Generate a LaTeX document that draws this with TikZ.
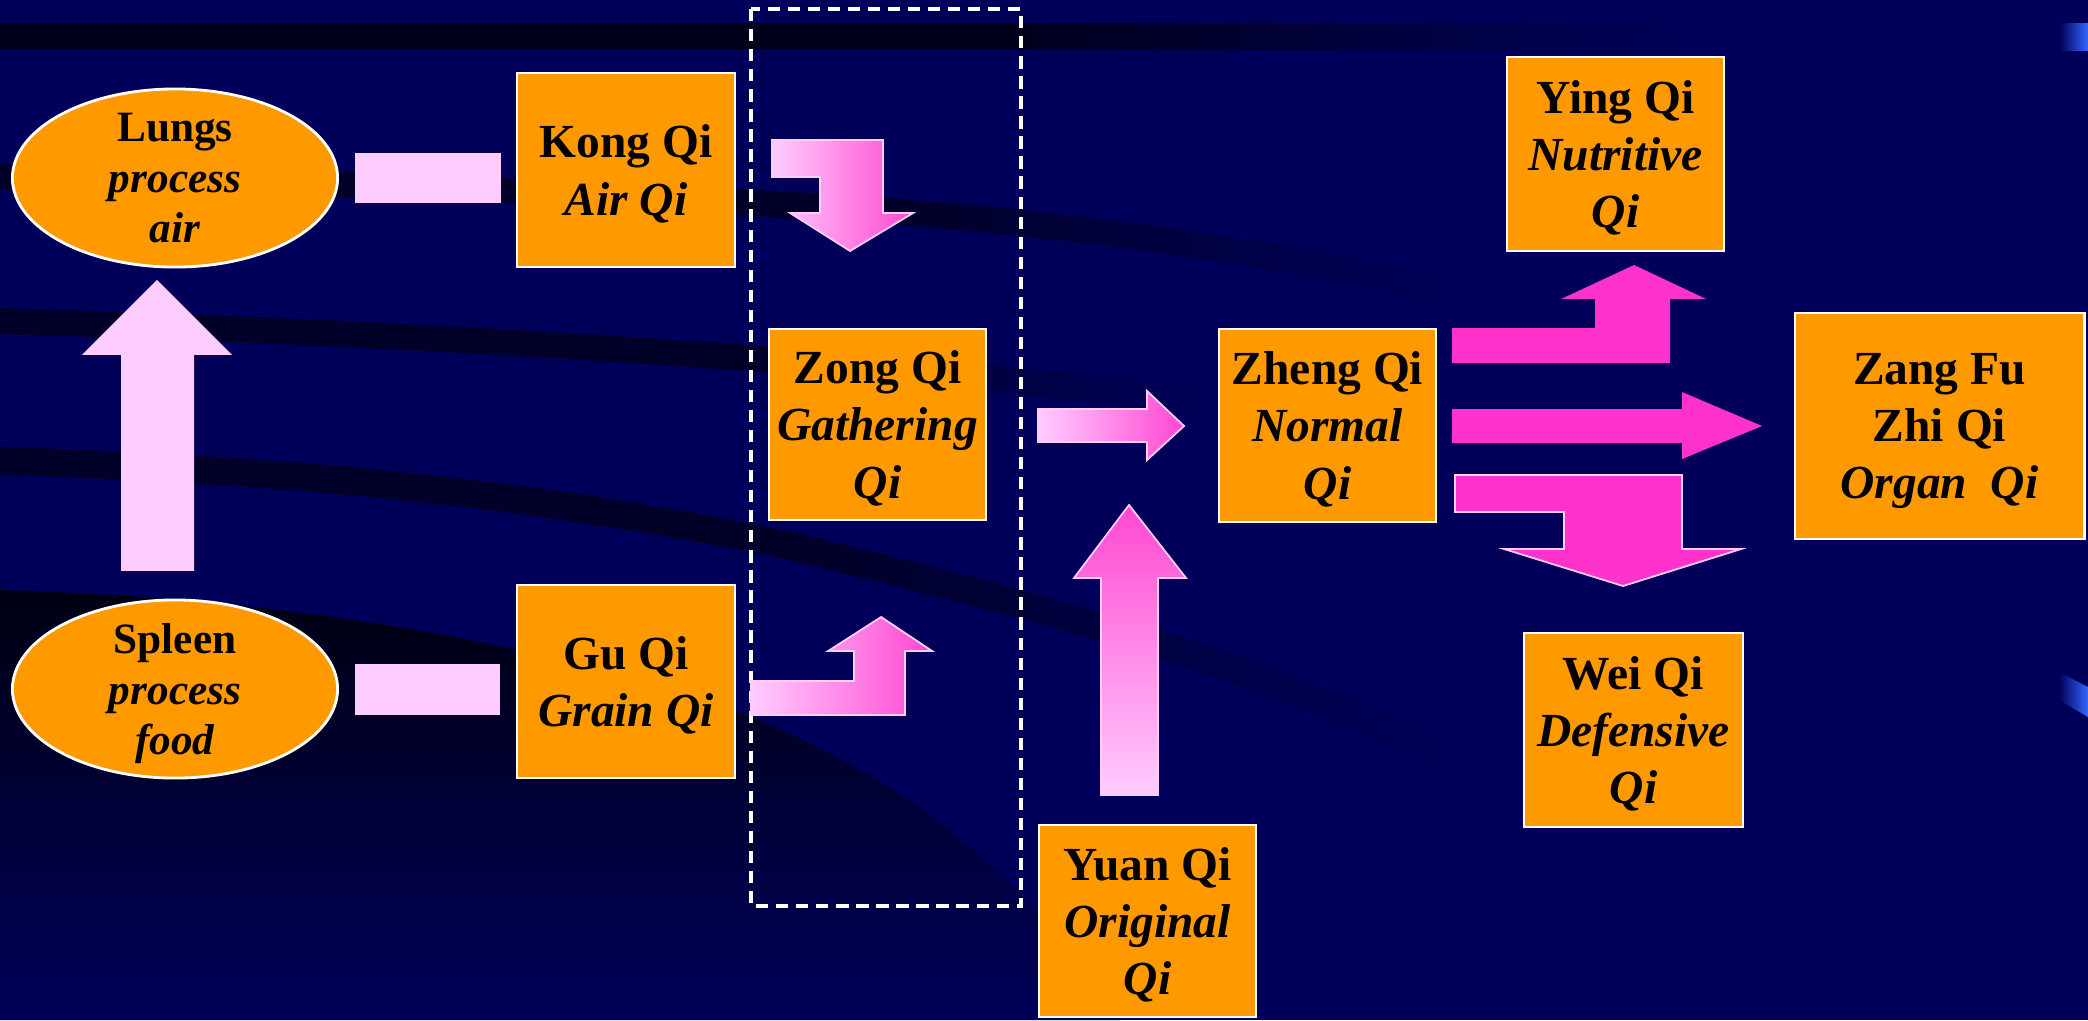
\documentclass[tikz,border=0pt]{standalone}
\usepackage{fontspec}
\setmainfont{Liberation Serif}
\usetikzlibrary{shapes.geometric,calc,fadings}
\definecolor{slidebg}{RGB}{0,0,90}
\definecolor{swoosh}{RGB}{0,0,40}
\definecolor{qiorange}{RGB}{255,153,0}
\definecolor{palepink}{RGB}{255,204,255}
\definecolor{hotpink}{RGB}{255,51,204}
\definecolor{bulletblue}{RGB}{51,102,255}
\tikzset{ %inner sep = 0,
  {qi box/.style} ={rectangle,draw=white,fill=qiorange,line width=0.8pt,
                    inner sep=0,outer sep=0,align=center,text depth=0pt,
                    minimum width=2.17cm,minimum height=1.93cm},
  {organ/.style} ={qi box,ellipse,inner sep=-8pt,
                   font=\bfseries\fontsize{12.3}{14.3}\selectfont,
                   minimum width=3.25cm,minimum height=1.78cm},
  {pale bar/.style} ={fill=palepink},
  {pale flow/.style} ={left color=palepink,right color=hotpink!90!white,
                       draw=palepink,line width=0.5pt},
  {rising flow/.style} ={bottom color=palepink,top color=hotpink!90!white,
                         draw=palepink,line width=0.5pt},
  {hot flow/.style} ={fill=hotpink},
  {band/.style} ={draw=swoosh,line width=0.26cm},
  {fade band/.style} ={band,path fading=east},
  every node/.append style={font=\bfseries\fontsize{13.5}{16.3}\selectfont},
}

\begin{document}
\begin{tikzpicture}[x=0.01cm,y=-0.01cm]
\fill[slidebg] (0,0) rectangle (2088,1020);
\useasboundingbox (0,0) rectangle (2088,1020);
% background swooshes
\shade[top color=swoosh!45!black,bottom color=slidebg] (0,590) .. controls (350,600) and (600,660) .. (760,720)
   .. controls (920,790) and (1030,880) .. (1120,1020) -- (0,1020) -- cycle;
\fill[swoosh!70!black] (0,23) rectangle (1000,50);
\fill[swoosh!70!black,path fading=east] (1000,23) rectangle (1700,50);
\draw[band] (0,177) .. controls (300,180) and (650,195) .. (900,212);
\draw[fade band] (900,212) .. controls (1100,228) and (1250,250) .. (1450,290);
\draw[band] (0,321) .. controls (300,330) and (550,343) .. (800,362);
\draw[fade band] (800,362) .. controls (950,372) and (1050,385) .. (1200,400);
\draw[band,line width=0.28cm] (0,461) .. controls (300,470) and (550,495) .. (800,548);
\draw[fade band,line width=0.28cm] (800,548) .. controls (1050,610) and (1250,660) .. (1450,760);
\shade[left color=slidebg,right color=bulletblue] (2060,23) rectangle (2088,50);
\shade[left color=slidebg,right color=bulletblue] (2059,672) -- (2088,687) -- (2088,717) -- (2059,700) -- cycle;
\draw[white,line width=0.9pt,dash pattern=on 3.5pt off 2.2pt] (751,9) rectangle (1021,906);

\node[organ] (Lu) at (175,178) {Lungs\\\textit{process}\\\textit{air}};
\node[organ] (Sp) at (175,689) {Spleen\\\textit{process}\\\textit{food}};
\node[qi box,minimum width=2.18cm,minimum height=1.94cm] (Ko) at (626,170) {Kong Qi\\\textit{Air Qi}};
\node[qi box,minimum width=2.18cm] (Gu) at (626,681.5) {Gu Qi\\\textit{Grain Qi}};
\node[qi box,minimum height=1.91cm] (Zo) at (877.5,424.5) {Zong Qi\\\textit{Gathering}\\\textit{Qi}};
\node[qi box,minimum height=1.92cm] (Yu) at (1147.5,921) {Yuan Qi\\\textit{Original}\\\textit{Qi}};
\node[qi box] (Zh) at (1327.5,425.5) {Zheng Qi\\\textit{Normal}\\\textit{Qi}};
\node[qi box,minimum height=1.94cm] (Yi) at (1615.5,154) {Ying Qi\\\textit{Nutritive}\\\textit{Qi}};
\node[qi box,minimum width=2.19cm,minimum height=1.94cm] (We) at (1633.5,730) {Wei Qi\\\textit{Defensive}\\\textit{Qi}};
\node[qi box,minimum width=2.89cm,minimum height=2.26cm] (ZF) at (1939.5,426) {Zang Fu\\Zhi Qi\\\textit{Organ\ \ Qi}};

\fill[pale bar] ($(Lu.east)+(17,-25)$) rectangle ($(Lu.east -| Ko.west)+(-16,25)$);
\fill[pale bar] ($(Sp.east)+(17,-25)$) rectangle ($(Sp.east -| Gu.west)+(-17,26)$);
\fill[pale bar] ($(Sp.north)+(-54,-29)$) -- ++(0,-216) -- ++(-39,0) -- ++(75,-75)
   -- ++(75,75) -- ++(-38,0) -- ++(0,216) -- cycle;
\draw[pale flow] ($(Ko.east)+(37,-30)$) -- ++(111,0) -- ++(0,73) -- ++(30,0) -- ++(-63,38)
   -- ++(-60,-38) -- ++(30,0) -- ++(0,-36) -- ++(-48,0) -- cycle;
\draw[pale flow] ($(Gu.east)+(16,-0.5)$) -- ++(103,0) -- ++(0,-30) -- ++(-26,0) -- ++(53,-34)
   -- ++(51,34) -- ++(-27,0) -- ++(0,64) -- ++(-154,0) -- cycle;
\draw[pale flow] ($(Zo.east)+(52,-15.5)$) -- ++(109,0) -- ++(0,-18) -- ++(37,35)
   -- ++(-37,34) -- ++(0,-18) -- ++(-109,0) -- cycle;
\draw[rising flow] ($(Yu.north)+(-46.5,-30)$) -- ++(0,-217) -- ++(-27,0) -- ++(55,-73)
   -- ++(57,73) -- ++(-28,0) -- ++(0,217) -- cycle;
\fill[hot flow] ($(Zh.east)+(16,-97.5)$) -- ++(143,0) -- ++(0,-29) -- ++(-34,0) -- ++(73,-34)
   -- ++(72,34) -- ++(-36,0) -- ++(0,64) -- ++(-218,0) -- cycle;
\fill[hot flow] ($(Zh.east)+(16,-16.5)$) -- ++(230,0) -- ++(0,-17) -- ++(80,34)
   -- ++(-80,33) -- ++(0,-16) -- ++(-230,0) -- cycle;
\filldraw[hot flow,draw=palepink,line width=0.5pt] ($(Zh.east)+(19,49.5)$) -- ++(227,0) -- ++(0,74)
   -- ++(59,0) -- ++(-118,37) -- ++(-119,-37) -- ++(60,0) -- ++(0,-37) -- ++(-109,0) -- cycle;
\end{tikzpicture}
\end{document}
